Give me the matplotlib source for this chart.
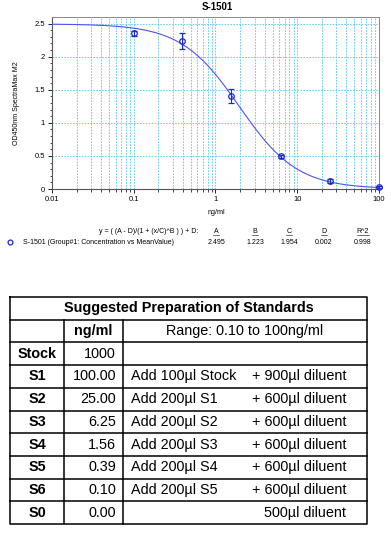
import numpy as np
import matplotlib
matplotlib.use("Agg")
import matplotlib.pyplot as plt
from matplotlib.ticker import LogLocator, FixedLocator, NullFormatter

plt.rcParams['font.family'] = ['Liberation Sans', 'DejaVu Sans']

# ---- data ----
conc = [0.1, 0.39, 1.56, 6.25, 25, 100]
od_mean = [2.355, 2.24, 1.405, 0.495, 0.12, 0.03]
od_err = [0.04, 0.12, 0.105, 0.02, 0.03, 0.015]
param_names = ["A", "B", "C", "D", "R^2"]
param_vals = ["2.495", "1.223", "1.954", "0.002", "0.998"]
A, B, C, D = 2.495, 1.223, 1.954, 0.002

table_title = "Suggested Preparation of Standards"
hdr_unit = "ng/ml"
hdr_range = "Range: 0.10 to 100ng/ml"
std_names = ["Stock", "S1", "S2", "S3", "S4", "S5", "S6", "S0"]
std_conc = ["1000", "100.00", "25.00", "6.25", "1.56", "0.39", "0.10", "0.00"]
std_add = ["", "Add 100µl Stock", "Add 200µl S1", "Add 200µl S2", "Add 200µl S3",
           "Add 200µl S4", "Add 200µl S5", ""]
std_dil = ["", "+ 900µl diluent", "+ 600µl diluent", "+ 600µl diluent", "+ 600µl diluent",
           "+ 600µl diluent", "+ 600µl diluent", "500µl diluent"]

W, H = 391, 534
fig = plt.figure(figsize=(W / 100, H / 100), dpi=100)

def fx(px):
    return px / W

def fy(py):
    return 1 - py / H

# ---- chart ----
L, R, T, Bt = 52, 379, 17, 189
ax = fig.add_axes([fx(L), fy(Bt), fx(R - L), (Bt - T) / H])
ax.set_xscale('log')
ax.set_xlim(0.01, 100)
ax.set_ylim(0, 2.6)

grid_c = '#55C8F0'
ax.xaxis.set_major_locator(LogLocator(base=10, numticks=10))
ax.xaxis.set_minor_locator(LogLocator(base=10, subs=np.arange(2, 10), numticks=20))
ax.xaxis.set_minor_formatter(NullFormatter())
ax.set_xticks([0.01, 0.1, 1, 10, 100])
ax.set_xticklabels(["0.01", "0.1", "1", "10", "100"])
ax.set_yticks([0, 0.5, 1, 1.5, 2, 2.5])
ax.set_yticklabels(["0", "0.5", "1", "1.5", "2", "2.5"])
ax.yaxis.set_minor_locator(FixedLocator(np.arange(0.1, 2.6, 0.1)))
ax.grid(True, which='major', color=grid_c, ls=(0, (2, 1.5)), lw=0.6)
ax.grid(True, which='minor', axis='x', color=grid_c, ls=(0, (2, 1.5)), lw=0.6)
ax.tick_params(which='major', labelsize=5.5, length=3, width=0.6, pad=2, direction='out')
ax.tick_params(which='minor', length=1.8, width=0.5)
for s in ['top', 'right']:
    ax.spines[s].set_color('#888888')
    ax.spines[s].set_linewidth(0.7)
for s in ['left', 'bottom']:
    ax.spines[s].set_color('#555555')
    ax.spines[s].set_linewidth(0.8)

xs = np.logspace(-2, 2, 400)
ys = (A - D) / (1 + (xs / C) ** B) + D
ax.plot(xs, ys, color='#4A55F0', lw=0.8, zorder=3)
ax.errorbar(conc, od_mean, yerr=od_err, fmt='o', mfc='none', mec='#1A2ACC',
            ecolor='#1A2ACC', ms=4, mew=0.9, elinewidth=0.8, capsize=2.5, capthick=0.8,
            zorder=4, clip_on=False)

fig.text(fx(217), fy(7), "S-1501", fontsize=7, fontweight='bold', ha='center', va='center')
fig.text(fx(17), fy(103), "OD450nm SpectraMax M2", fontsize=5, rotation=90,
         ha='center', va='center')
fig.text(fx(216), fy(213), "ng/ml", fontsize=5.2, ha='center', va='center')

fig.text(fx(198), fy(231), "y = ( (A - D)/(1 + (x/C)^B ) ) + D:", fontsize=5,
         ha='right', va='center')
name_x = [216, 255, 289, 324, 363]
for nm, vv, xx in zip(param_names, param_vals, name_x):
    fig.text(fx(xx), fy(231), nm, fontsize=5, ha='center', va='center')
    fig.add_artist(plt.Line2D([fx(xx - 3 - 1.5 * (len(nm) - 1)), fx(xx + 3 + 1.5 * (len(nm) - 1))],
                              [fy(235), fy(235)], color='black', lw=0.4))
    fig.text(fx(xx), fy(242), vv, fontsize=5, ha='center', va='center')
fig.add_artist(plt.Line2D([fx(10)], [fy(242)], marker='o', mfc='none', mec='#1A2ACC',
                          ms=3.5, mew=0.9))
fig.text(fx(23), fy(242), "S-1501 (Group#1: Concentration vs MeanValue)", fontsize=5,
         ha='left', va='center')

# ---- table ----
tax = fig.add_axes([0, 0, 1, 1])
tax.set_xlim(0, W)
tax.set_ylim(H, 0)
tax.axis('off')

tx0, tx1 = 10, 367
c1, c2 = 64, 123
top = 297
rh = 22.7
nrows = 2 + len(std_names)
ybot = top + rh * nrows
lw = 1.1
tax.plot([tx0, tx1, tx1, tx0, tx0], [top, top, ybot, ybot, top], color='black', lw=lw)
for i in range(1, nrows):
    y = top + rh * i
    tax.plot([tx0, tx1], [y, y], color='black', lw=lw)
tax.plot([c1, c1], [top + rh, ybot], color='black', lw=lw)
tax.plot([c2, c2], [top + rh, ybot], color='black', lw=lw)

fs = 10.4
tax.text((tx0 + tx1) / 2, top + rh / 2, table_title, fontsize=fs, fontweight='bold',
         ha='center', va='center')
tax.text((c1 + c2) / 2, top + rh * 1.5, hdr_unit, fontsize=fs, fontweight='bold',
         ha='center', va='center')
tax.text((c2 + tx1) / 2, top + rh * 1.5, hdr_range, fontsize=fs, ha='center', va='center')
for i, (nm, cc, ad, dl) in enumerate(zip(std_names, std_conc, std_add, std_dil)):
    yc = top + rh * (2.5 + i)
    tax.text((tx0 + c1) / 2, yc, nm, fontsize=fs, fontweight='bold', ha='center', va='center')
    tax.text(116, yc, cc, fontsize=fs, ha='right', va='center')
    if ad:
        tax.text(131, yc, ad, fontsize=fs, ha='left', va='center')
    if dl:
        tax.text(346, yc, dl, fontsize=fs, ha='right', va='center')

fig.savefig("out.png", dpi=100)
